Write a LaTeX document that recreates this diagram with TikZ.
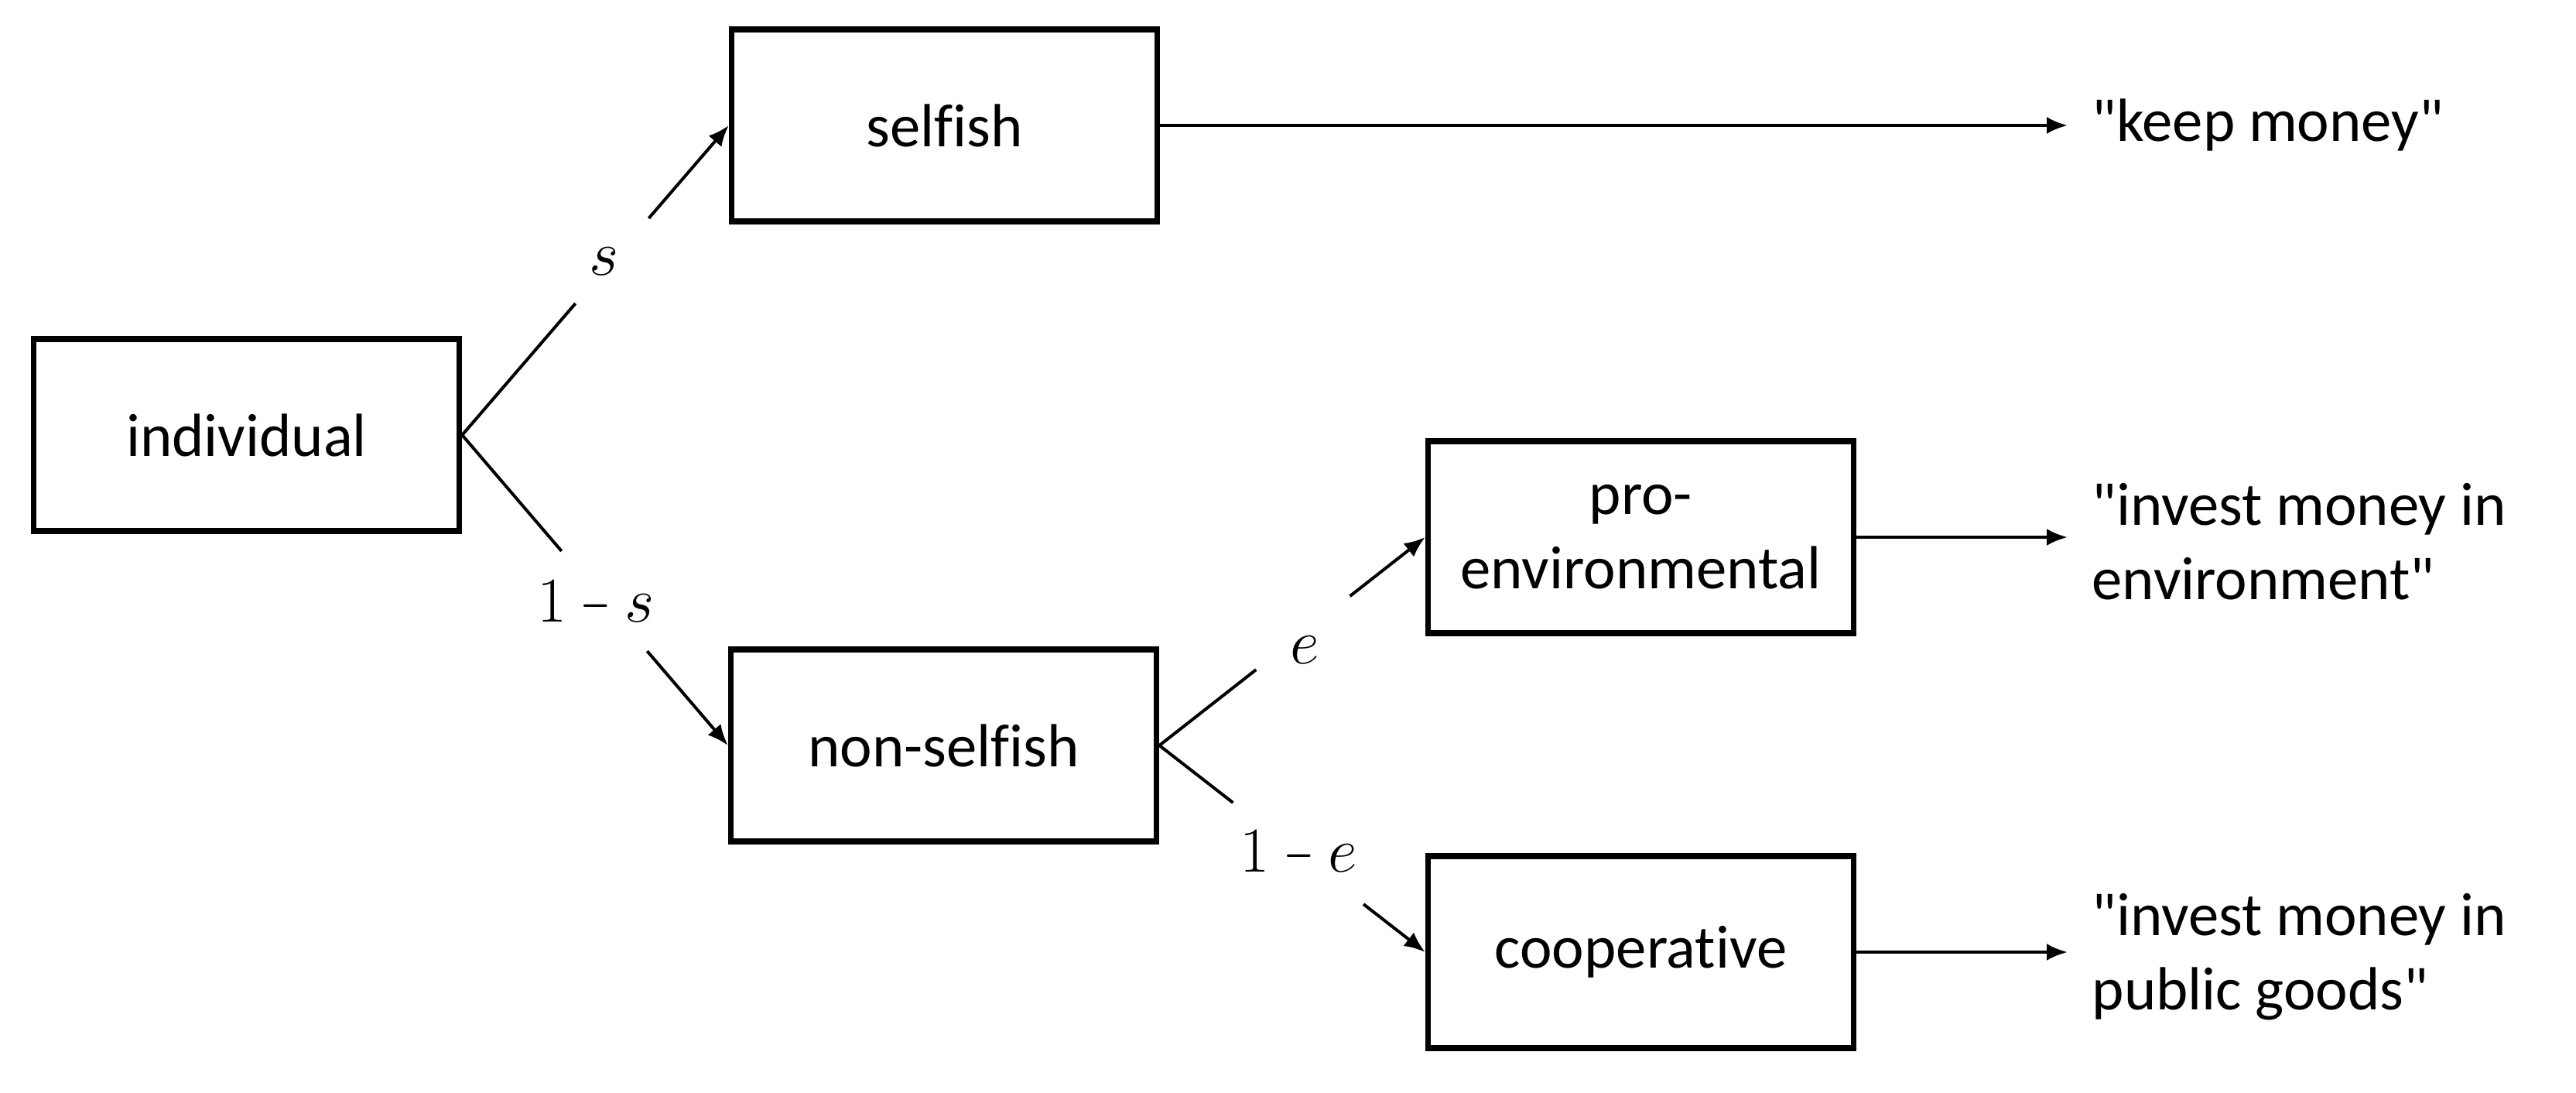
\documentclass[tikz,border=0pt]{standalone}
\usepackage{fix-cm}
\usepackage{graphicx}
\usepackage{fontspec}
\setmainfont{Carlito}[Ligatures={TeXOff,NoCommon}]
\usetikzlibrary{arrows.meta,calc}
\newcommand{\shortminus}{\mathbin{\scalebox{0.6}[1]{$-$}}}
\begin{document}
\begin{tikzpicture}
\tikzset{
 box/.style={draw, line width=0.075cm, minimum width=5.50cm, minimum height=2.48cm, align=center, font=\fontsize{22.4}{27.3}\selectfont, inner sep=0},
 conn/.style={line width=0.04cm},
 arr/.style={conn, -{Latex[length=0.27cm,width=0.22cm]}},
 outtext/.style={anchor=west, align=left, inner sep=0, font=\fontsize{22.4}{27.3}\selectfont},
 lab/.style={font=\fontsize{23.5}{27}\selectfont, inner sep=0}
}
\useasboundingbox (0,0) rectangle (33.29,-14.12);
\node[box] (ind) at (3.185,-5.62) {individual};
\node[box] (self) at (12.205,-1.62) {selfish};
\node[box] (nons) at (12.195,-9.63) {non-selfish};
\node[box] (pro) at (21.205,-6.94) {pro-\\environmental};
\node[box] (coop) at (21.205,-12.30) {cooperative};
\node[outtext] (o1) at (27.03,-1.62) {"keep money"};
\node[outtext] (o2) at (27.03,-7.0) {"invest money in\\environment"};
\node[outtext] (o3) at (27.03,-12.36) {"invest money in\\public goods"};
% outputs
\draw[arr, shorten >=0.31cm] (self.east) -- (self.east -| o1.west);
\draw[arr, shorten >=0.31cm] (pro.east) -- (pro.east -| o2.west);
\draw[arr, shorten >=0.31cm] (coop.east) -- (coop.east -| o3.west);
% individual -> selfish
\coordinate (a1) at ($(ind.east)!0.425!(self.west)$);
\coordinate (a2) at ($(ind.east)!0.70!(self.west)$);
\draw[conn] (ind.east) -- (a1);
\draw[arr] (a2) -- (self.west);
\node[lab] (ls) at ($(ind.east)!0.56!(self.west)+(-0.1,0)$) {$s$};
% individual -> non-selfish
\coordinate (b1) at ($(ind.east)!0.374!(nons.west)$);
\coordinate (b2) at ($(ind.east)!0.696!(nons.west)$);
\draw[conn] (ind.east) -- (b1);
\draw[arr] (b2) -- (nons.west);
\node[lab] (lns) at ($(ind.east)!0.544!(nons.west)+(-0.14,0)$) {$1\shortminus s$};
% non-selfish -> pro-environmental
\coordinate (c1) at ($(nons.east)!0.364!(pro.west)$);
\coordinate (c2) at ($(nons.east)!0.717!(pro.west)$);
\draw[conn] (nons.east) -- (c1);
\draw[arr] (c2) -- (pro.west);
\node[lab] (le) at ($(nons.east)!0.46!(pro.west)+(0.30,0)$) {$e$};
% non-selfish -> cooperative
\coordinate (d1) at ($(nons.east)!0.277!(coop.west)$);
\coordinate (d2) at ($(nons.east)!0.768!(coop.west)$);
\draw[conn] (nons.east) -- (d1);
\draw[arr] (d2) -- (coop.west);
\node[lab] (lne) at ($(nons.east)!0.524!(coop.west)$) {$1\shortminus e$};
\end{tikzpicture}
\end{document}
